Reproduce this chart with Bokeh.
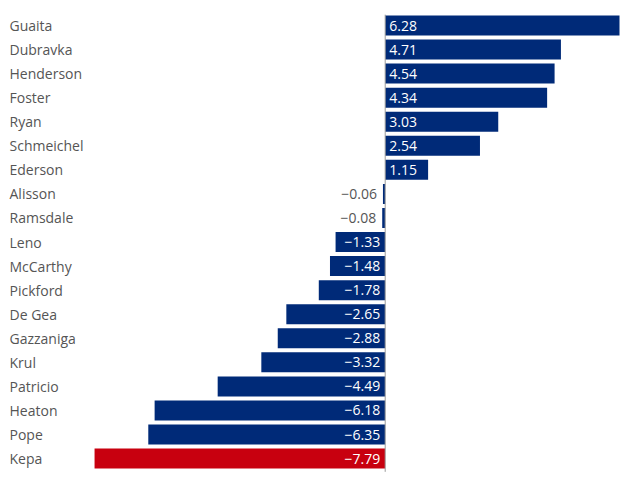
from bokeh.plotting import figure
from bokeh.models import ColumnDataSource, Range1d
from bokeh.core.properties import value
from bokeh.embed import file_html
from bokeh.resources import INLINE

names = ["Guaita", "Dubravka", "Henderson", "Foster", "Ryan", "Schmeichel", "Ederson",
         "Alisson", "Ramsdale", "Leno", "McCarthy", "Pickford", "De Gea", "Gazzaniga",
         "Krul", "Patricio", "Heaton", "Pope", "Kepa"]
values = [6.28, 4.71, 4.54, 4.34, 3.03, 2.54, 1.15, -0.06, -0.08, -1.33, -1.48, -1.78,
          -2.65, -2.88, -3.32, -4.49, -6.18, -6.35, -7.79]
highlight = "Kepa"

NAVY = "#002a78"
RED = "#c8000f"

W, H = 628, 472
PXU = 37.31         # pixels per unit on x
ROW = 24.06         # pixels per row
zero_px = 384.7
x0 = -zero_px / PXU
x1 = x0 + W / PXU
y_top = -25 / ROW
y_bot = y_top + H / ROW

idx = list(range(len(names)))
colors = [RED if n == highlight else NAVY for n in names]
lefts = [min(v, 0) for v in values]
rights = [max(v, 0) for v in values]

def fmt(v):
    s = f"{abs(v):.2f}"
    return ("\u2212" + s) if v < 0 else s

labels = [fmt(v) for v in values]

p = figure(width=W, height=H, output_backend="svg", toolbar_location=None,
           x_range=Range1d(x0, x1), y_range=Range1d(y_bot, y_top),
           min_border=0, outline_line_color=None)
p.axis.visible = False
p.grid.visible = False
p.background_fill_color = "white"

src = ColumnDataSource(dict(y=idx, left=lefts, right=rights, color=colors))
p.hbar(y="y", left="left", right="right", height=20 / ROW, color="color", source=src,
       line_color=None)

# zero line
p.segment(x0=[0], x1=[0], y0=[-0.45], y1=[len(names) - 0.45], line_color="#9a9a9a",
          line_width=1)

# names
p.text(x=[x0] * len(names), y=idx, text=names, x_offset=9, text_font=value("Open Sans"),
       text_font_size="14px", text_color="#555555", text_baseline="middle",
       text_align="left")

# value labels
pos_i = [i for i, v in enumerate(values) if v >= 0]
inner_neg = [i for i, v in enumerate(values) if v < 0 and abs(v) * PXU > 45]
outer_neg = [i for i, v in enumerate(values) if v < 0 and abs(v) * PXU <= 45]

p.text(x=[0] * len(pos_i), y=[idx[i] for i in pos_i], text=[labels[i] for i in pos_i],
       x_offset=4, text_font=value("Open Sans"), text_font_size="14px",
       text_color="white", text_baseline="middle", text_align="left")
p.text(x=[0] * len(inner_neg), y=[idx[i] for i in inner_neg],
       text=[labels[i] for i in inner_neg], x_offset=-5, text_font=value("Open Sans"),
       text_font_size="14px", text_color="white", text_baseline="middle",
       text_align="right")
p.text(x=[values[i] for i in outer_neg], y=[idx[i] for i in outer_neg],
       text=[labels[i] for i in outer_neg], x_offset=-6, text_font=value("Open Sans"),
       text_font_size="14px", text_color="#555555", text_baseline="middle",
       text_align="right")

open("out.html", "w").write(file_html(p, INLINE))
